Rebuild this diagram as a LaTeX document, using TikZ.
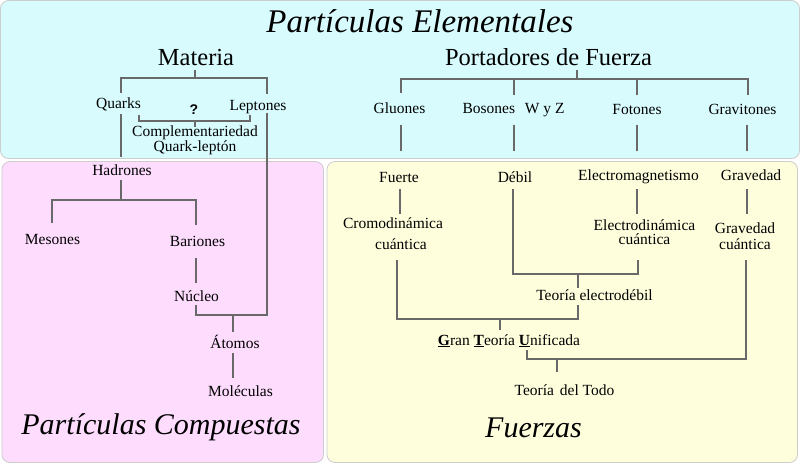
\documentclass[tikz,border=0pt]{standalone}
\usepackage{fontspec}
\setmainfont{Liberation Serif}
\newfontfamily\qfont{Liberation Sans}
\definecolor{cyanbg}{RGB}{216,251,253}
\definecolor{pinkbg}{RGB}{253,220,253}
\definecolor{yellowbg}{RGB}{254,254,221}
\definecolor{linec}{RGB}{105,105,105}
\definecolor{edgec}{RGB}{205,205,205}
\begin{document}
\begin{tikzpicture}[x=1pt,y=-1pt,
  panel/.style={rounded corners=8pt, draw=edgec, line width=0.8pt},
  lbl/.style={inner sep=0pt, anchor=base, font=\fontsize{15.5}{17}\selectfont},
  two/.style={inner sep=0pt, anchor=center, align=center, font=\fontsize{15.5}{#1}\selectfont},
  big/.style={inner sep=0pt, anchor=base, font=\fontsize{24.5}{26}\selectfont},
  ttl/.style={inner sep=0pt, anchor=base, font=\itshape\fontsize{#1}{#1}\selectfont},
  conn/.style={draw=linec, line width=1.2pt}]
\useasboundingbox (0,0) rectangle (800,464);
\fill[white] (0,0) rectangle (800,464);
% panels
\draw[panel, fill=cyanbg] (0.5,0.5) rectangle (799.5,158.5);
\draw[panel, fill=pinkbg] (2,161.5) rectangle (323.5,462.5);
\draw[panel, fill=yellowbg] (327,161.5) rectangle (797.5,462.5);
% titles
\node[ttl=33] (tElem) at (420,32) {Partículas Elementales};
\node[ttl=30] (tComp) at (161,434) {Partículas Compuestas};
\node[ttl=30] (tFuer) at (533.5,437) {Fuerzas};
% matter side
\node[big] (materia) at (196,65) {Materia};
\node[lbl] (quarks) at (118.5,108) {Quarks};
\node[lbl] (leptones) at (258,110) {Leptones};
\node[inner sep=0pt, anchor=base, font=\qfont\bfseries\fontsize{14}{16}\selectfont] (quest) at (194,114) {?};
\node[two=13] (compl) at (195,140) {Complementariedad\\Quark-leptón};
\node[lbl] (hadrones) at (122,175) {Hadrones};
\node[lbl] (mesones) at (52.5,244) {Mesones};
\node[lbl] (bariones) at (197.5,246) {Bariones};
\node[lbl] (nucleo) at (196.5,301) {Núcleo};
\node[lbl] (atomos) at (235,348) {Átomos};
\node[lbl] (moleculas) at (240.5,396) {Moléculas};
% force side
\node[big] (portadores) at (548.5,65) {Portadores de Fuerza};
\node[lbl] (gluones) at (399.5,113) {Gluones};
\node[lbl] (bosones) at (513.5,113) {Bosones\hspace{6pt} W y Z};
\node[lbl] (fotones) at (637,114) {Fotones};
\node[lbl] (gravitones) at (742.5,114) {Gravitones};
\node[lbl] (fuerte) at (399,182) {Fuerte};
\node[lbl] (debil) at (515,182) {Débil};
\node[lbl] (electromag) at (638.5,180) {Electromagnetismo};
\node[lbl] (gravedad) at (751,180) {Gravedad};
\node[two=21] (cromo) at (393,233.5) {Cromodinámica\\\hspace*{16pt}cuántica};
\node[two=14] (electrodin) at (644.5,232) {Electrodinámica\\cuántica};
\node[two=16] (gravcuant) at (745,236) {Gravedad\\cuántica};
\node[lbl] (electrodebil) at (594.5,300) {Teoría electrodébil};
\node[lbl] (gut) at (509,345) {\underline{\textbf{G}}ran \underline{\textbf{T}}eoría \underline{\textbf{U}}nificada};
\node[lbl] (toe) at (564.5,395) {Teoría\hspace{2pt} del Todo};
% coordinates (matter)
\coordinate (mT) at (195,70);   \coordinate (mJ) at (195,78);
\coordinate (mL) at (121,78);   \coordinate (mR) at (267,78);
\coordinate (qTop) at (121,93); \coordinate (lTop) at (267,94);
\coordinate (qA) at (121,114);  \coordinate (qB) at (121,157);
\coordinate (lA) at (267,113);  \coordinate (nJ) at (267,315);
\coordinate (nL) at (196,315);  \coordinate (nT) at (196,305);
\coordinate (aT) at (233,315);  \coordinate (aB) at (233,332);
\coordinate (bqL) at (139,115); \coordinate (bqL2) at (139,121);
\coordinate (bqR2) at (250,121);\coordinate (bqR) at (250,115);
\coordinate (bqM) at (195,121); \coordinate (bqB) at (195,127);
\coordinate (hT) at (121,180);  \coordinate (hJ) at (121,200);
\coordinate (hL) at (52,200);   \coordinate (hR) at (196,200);
\coordinate (mesT) at (52,223); \coordinate (barT) at (196,225);
\coordinate (barB) at (196,258);\coordinate (nucT) at (196,283);
\coordinate (atB) at (233,353); \coordinate (molT) at (233,378);
% coordinates (forces)
\coordinate (pT) at (577,70);   \coordinate (pJ) at (577,79);
\coordinate (pL) at (401,79);   \coordinate (pR) at (748,79);
\coordinate (gluT) at (401,93);
\coordinate (bosJ) at (514,79); \coordinate (bosT) at (514,95);
\coordinate (fotJ) at (637,79); \coordinate (fotT) at (637,95);
\coordinate (graT) at (748,95);
\coordinate (gluB) at (401,125);\coordinate (gluE) at (401,151);
\coordinate (bosB) at (514,125);\coordinate (bosE) at (514,151);
\coordinate (fotB) at (637,125);\coordinate (fotE) at (637,151);
\coordinate (graB) at (747,125);\coordinate (graE) at (747,151);
\coordinate (fuB) at (400,189); \coordinate (crT) at (400,214);
\coordinate (emB) at (637,189); \coordinate (edT) at (637,214);
\coordinate (gvB) at (747,189); \coordinate (gqT) at (747,214);
\coordinate (deB) at (513,189); \coordinate (deJ) at (513,274);
\coordinate (edJ) at (638,274); \coordinate (edB) at (638,260);
\coordinate (ewJ) at (578,274); \coordinate (ewT) at (578,288);
\coordinate (crB) at (397,260); \coordinate (crJ) at (397,319);
\coordinate (ewJ2) at (578,319);\coordinate (ewB) at (578,305);
\coordinate (gutJ) at (500,319);\coordinate (gutT) at (500,330);
\coordinate (gutB) at (527,350);\coordinate (gutJ2) at (527,359);
\coordinate (gqJ) at (746,359); \coordinate (gqB) at (746,260);
\coordinate (toeJ) at (557,359);\coordinate (toeT) at (557,372);
% connectors (matter)
\draw[conn] (mT) -- (mJ);
\draw[conn] (qTop) -- (mL) -- (mR) -- (lTop);
\draw[conn] (qA) -- (qB);
\draw[conn] (lA) -- (nJ) -- (nL) -- (nT);
\draw[conn] (aT) -- (aB);
\draw[conn] (bqL) -- (bqL2) -- (bqR2) -- (bqR);
\draw[conn] (bqM) -- (bqB);
\draw[conn] (hT) -- (hJ);
\draw[conn] (mesT) -- (hL) -- (hR) -- (barT);
\draw[conn] (barB) -- (nucT);
\draw[conn] (atB) -- (molT);
% connectors (forces)
\draw[conn] (pT) -- (pJ);
\draw[conn] (gluT) -- (pL) -- (pR) -- (graT);
\draw[conn] (bosJ) -- (bosT);
\draw[conn] (fotJ) -- (fotT);
\draw[conn] (gluB) -- (gluE);
\draw[conn] (bosB) -- (bosE);
\draw[conn] (fotB) -- (fotE);
\draw[conn] (graB) -- (graE);
\draw[conn] (fuB) -- (crT);
\draw[conn] (emB) -- (edT);
\draw[conn] (gvB) -- (gqT);
\draw[conn] (deB) -- (deJ) -- (edJ) -- (edB);
\draw[conn] (ewJ) -- (ewT);
\draw[conn] (crB) -- (crJ) -- (ewJ2) -- (ewB);
\draw[conn] (gutJ) -- (gutT);
\draw[conn] (gutB) -- (gutJ2) -- (gqJ) -- (gqB);
\draw[conn] (toeJ) -- (toeT);
\end{tikzpicture}
\end{document}
